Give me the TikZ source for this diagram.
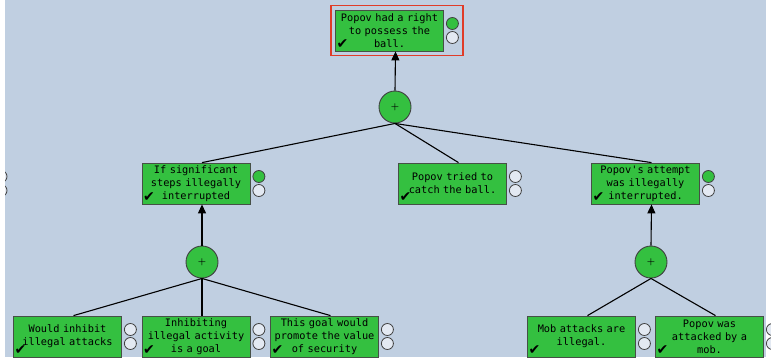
\documentclass[tikz,border=0pt]{standalone}
\usepackage{fontspec}
\setmonofont{DejaVu Sans Mono}
\newfontfamily\symfont{DejaVu Sans}
\usetikzlibrary{arrows.meta,calc,fit}
\definecolor{bgblue}{RGB}{192,207,225}
\definecolor{boxgreen}{RGB}{52,192,64}
\definecolor{edgegray}{RGB}{70,80,70}
\definecolor{hlred}{RGB}{224,60,40}
\tikzset{
  gbox/.style={rectangle, draw=edgegray, line width=0.8pt, fill=boxgreen,
    minimum width=108pt, minimum height=41pt, inner sep=0pt,
    text width=107pt, align=center, text=black,
    font=\fontsize{10.3}{13}\selectfont\ttfamily},
  chk/.style={inner sep=0pt, font=\symfont\fontsize{14}{14}\selectfont, text=black},
  dot/.style={circle, draw=black!75, line width=0.8pt, fill=bgblue!45!white,
    minimum size=12pt, inner sep=0pt},
  plusnode/.style={circle, draw=black!75, line width=0.9pt, fill=boxgreen,
    minimum size=32pt, inner sep=0pt, font=\fontsize{9}{9}\selectfont\bfseries},
  link/.style={draw=black, line width=1.1pt},
  arrowlink/.style={link, -{Triangle[length=9pt,width=8pt]}},
  hlbox/.style={draw=hlred, line width=1.5pt, inner sep=4pt}
}
\newcommand\argnode[5]{%
  \node[gbox] (#1) at (#2,#3) {#4};
  \node[chk] (#1c) at ($(#1.south west)+(7.5,-7)$) {✔};
  \node[dot,fill=#5] (#1t) at ($(#1.east)+(8.5,-7)$) {};
  \node[dot] (#1b) at ($(#1.east)+(8.5,7)$) {};
}
\begin{document}
\begin{tikzpicture}[x=1pt,y=-1pt]
\useasboundingbox (0,0) rectangle (771,360);
\fill[white] (0,0) rectangle (771,360);
\fill[bgblue] (5,0) rectangle (766,356.5);
% partially visible circles at the left edge
\begin{scope}
\clip (5,0) rectangle (20,356);
\node[dot] (offt) at (1,176.5) {};
\node[dot] (offb) at (1,190.5) {};
\end{scope}

\argnode{top}{389.5}{30.5}{Popov had a right\\to possess the\\ball.}{boxgreen}
\node[hlbox, fit=(top)(topt)(topb)] (tophl) {};

\argnode{ma}{196}{183.5}{If significant\\steps illegally\\interrupted}{boxgreen}
\argnode{mb}{452.5}{183.5}{Popov tried to\\catch the ball.}{bgblue!45!white}
\argnode{mc}{645.5}{183.5}{Popov's attempt\\was illegally\\interrupted.}{boxgreen}

\argnode{ba}{67.5}{336.5}{Would inhibit\\illegal attacks}{bgblue!45!white}
\argnode{bb}{196}{336.5}{Inhibiting\\illegal activity\\is a goal}{bgblue!45!white}
\argnode{bc}{324.5}{336.5}{This goal would\\promote the value\\of security}{bgblue!45!white}
\argnode{bd}{581.5}{336.5}{Mob attacks are\\illegal.}{bgblue!45!white}
\argnode{be}{709.5}{336.5}{Popov was\\attacked by a\\mob.}{bgblue!45!white}

\node[plusnode] (p0) at (395,107) {+};
\node[plusnode] (p1) at (202,262) {+};
\node[plusnode] (p2) at (651,262) {+};

\draw[arrowlink] (p0.north) -- ([xshift=6pt]top.south);
\draw[link] (p0.south) -- ([xshift=6pt]ma.north);
\draw[link] (p0.south) -- ([xshift=6pt]mb.north);
\draw[link] (p0.south) -- ([xshift=6pt]mc.north);

\draw[arrowlink] (p1.north) -- ([xshift=6pt]ma.south);
\draw[link] (p1.south) -- ([xshift=6pt]ba.north);
\draw[link] (p1.south) -- ([xshift=6pt]bb.north);
\draw[link] (p1.south) -- ([xshift=6pt]bc.north);

\draw[arrowlink] (p2.north) -- ([xshift=6pt]mc.south);
\draw[link] (p2.south) -- ([xshift=6pt]bd.north);
\draw[link] (p2.south) -- ([xshift=6pt]be.north);
\end{tikzpicture}
\end{document}
